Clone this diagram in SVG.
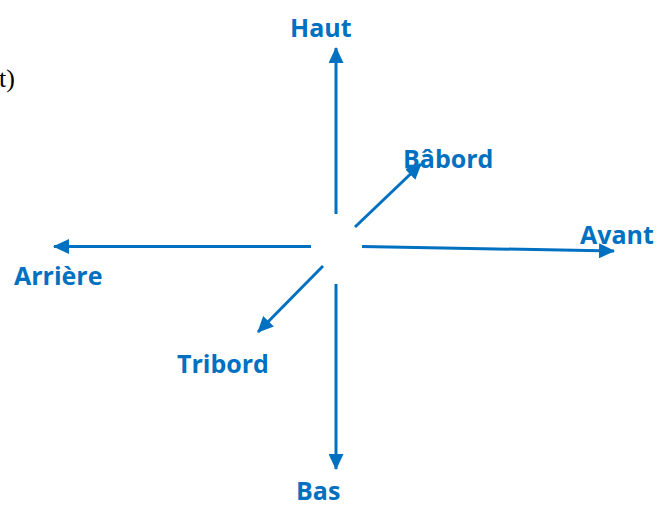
<svg xmlns="http://www.w3.org/2000/svg" width="671" height="507" viewBox="0 0 671 507">
<style>
.lbl{font-family:"Open Sans","Liberation Sans",sans-serif;font-weight:bold;font-size:25px;fill:#0070C0}
.ln{stroke:#0070C0;stroke-width:3;fill:none}
</style>
<defs>
<marker id="ah" viewBox="0 0 16 15" refX="15" refY="7.5" markerWidth="16" markerHeight="15" markerUnits="userSpaceOnUse" orient="auto">
<path d="M0,0 L16,7.5 L0,15 Z" fill="#0070C0"/>
</marker>
</defs>
<rect width="671" height="507" fill="#fff"/>
<text x="-1" y="87" font-family="Liberation Serif,serif" font-size="26" fill="#000">t)</text>
<g id="connectors">
<line class="ln" x1="336" y1="214" x2="336" y2="48" marker-end="url(#ah)"/>
<line class="ln" x1="336" y1="284" x2="336" y2="469" marker-end="url(#ah)"/>
<line class="ln" x1="311" y1="246.5" x2="54" y2="246.5" marker-end="url(#ah)"/>
<line class="ln" x1="362" y1="246.5" x2="614" y2="251" marker-end="url(#ah)"/>
<line class="ln" x1="355" y1="227" x2="421" y2="164" marker-end="url(#ah)"/>
<line class="ln" x1="323" y1="266" x2="258" y2="332" marker-end="url(#ah)"/>
</g>
<g id="haut"><text class="lbl" x="290" y="37">Haut</text></g>
<g id="babord"><text class="lbl" x="403" y="168">Bâbord</text></g>
<g id="avant"><text class="lbl" x="580" y="244">Avant</text></g>
<g id="arriere"><text class="lbl" x="14" y="285">Arrière</text></g>
<g id="tribord"><text class="lbl" x="177" y="373">Tribord</text></g>
<g id="bas"><text class="lbl" x="296" y="500">Bas</text></g>
</svg>
